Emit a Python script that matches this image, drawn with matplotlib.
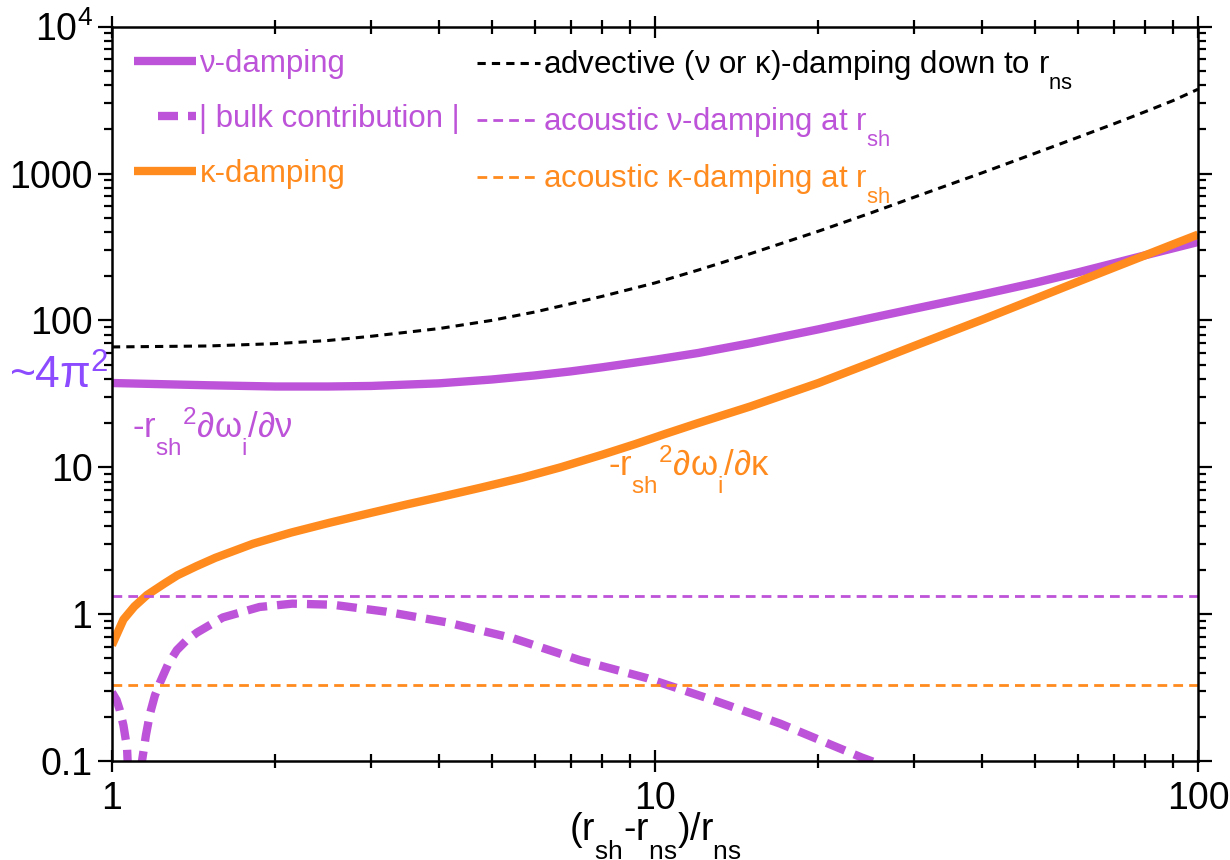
import numpy as np
import matplotlib
matplotlib.use("Agg")
import matplotlib.pyplot as plt
from matplotlib.ticker import LogLocator, NullFormatter
from matplotlib.legend_handler import HandlerLine2D

try:
    # deeper subscripts, like the original figure
    import matplotlib._mathtext as _mt
    _mt.FontConstantsBase.subdrop = 0.95
    _mt.FontConstantsBase.sub1 = 0.95
except Exception:
    pass

plt.rcParams['font.family'] = ['Liberation Sans', 'DejaVu Sans']
plt.rcParams['mathtext.fontset'] = 'custom'
plt.rcParams['mathtext.rm'] = 'Liberation Sans'
plt.rcParams['mathtext.it'] = 'Liberation Sans'
plt.rcParams['mathtext.sf'] = 'Liberation Sans'

PURPLE = '#bd53d8'
ORANGE = '#ff8b1f'
VIOLET = '#8c4bff'

# nu-damping (solid purple)
nu_x = [1, 1.5, 2, 2.5, 3, 4, 5, 6, 7, 8, 10, 12, 15, 20, 25, 30, 40, 50, 60, 70, 80, 90, 100]
nu_y = [37.5, 36.2, 35.5, 35.5, 35.8, 37.3, 39.6, 42.2, 45, 48, 54, 60, 70, 87, 104, 120, 150, 180, 212, 245, 278, 310, 342]

# kappa-damping (solid orange)
kap_x = [1, 1.05, 1.1, 1.16, 1.25, 1.32, 1.43, 1.55, 1.82, 2.14, 2.52, 3.0, 3.5, 4.0, 4.8, 5.7, 6.7,
         8.0, 9.2, 10.5, 12, 15, 20, 25, 30, 40, 50, 60, 70, 80, 90, 100]
kap_y = [0.615, 0.92, 1.13, 1.35, 1.62, 1.84, 2.12, 2.42, 3.02, 3.6, 4.2, 4.9, 5.6, 6.25, 7.3, 8.5, 10.0,
         12.2, 14.4, 17.0, 20.0, 26.0, 37.5, 51.5, 67, 101, 140, 183, 229, 278, 330, 384]

# |bulk contribution| (thick dashed purple)
bulk_x = [1, 1.02, 1.034, 1.05, 1.066, 1.1, 1.136, 1.155, 1.175, 1.2, 1.225, 1.27, 1.317, 1.37, 1.434,
          1.6, 1.87, 2.15, 2.55, 3.2, 4.14, 5.48, 7.28, 9.67, 12.8, 17, 24, 26]
bulk_y = [0.294, 0.26, 0.222, 0.175, 0.124, 0.01, 0.1, 0.15, 0.21, 0.28, 0.34, 0.46, 0.57, 0.66, 0.75,
          0.95, 1.12, 1.18, 1.16, 1.04, 0.88, 0.686, 0.486, 0.367, 0.26, 0.18, 0.106, 0.095]

# advective damping down to r_ns (black dashed)
adv_x = [1, 1.5, 2, 2.5, 3, 4, 5, 6, 7, 8, 10, 12, 15, 20, 25, 30, 40, 50, 60, 70, 80, 90, 100]
adv_y = [66, 67, 69.5, 73, 78, 88, 100, 114, 130, 146, 180, 220, 285, 405, 540, 690, 1010, 1370, 1760,
         2180, 2640, 3140, 3750]

# acoustic damping at r_sh (horizontal levels)
nu_acoustic = 1.33
kap_acoustic = 0.328


class ShortHandle(HandlerLine2D):
    # legend sample drawn over the right part of the handle box only
    def create_artists(self, legend, orig_handle, xdescent, ydescent, width, height, fontsize, trans):
        return super().create_artists(legend, orig_handle, xdescent - 0.38 * width, ydescent,
                                      0.62 * width, height, fontsize, trans)


fig = plt.figure(figsize=(12.3, 8.6), dpi=100)
ax = fig.add_axes([0.091, 0.115, 0.883, 0.854])

h_nu, = ax.plot(nu_x, nu_y, color=PURPLE, lw=6, solid_capstyle='butt', label='ν-damping')
h_bulk, = ax.plot(bulk_x, bulk_y, color=PURPLE, lw=6, dashes=(2.4, 1.2), label='| bulk contribution |')
h_kap, = ax.plot(kap_x, kap_y, color=ORANGE, lw=6, solid_capstyle='butt', label='κ-damping')
h_adv, = ax.plot(adv_x, adv_y, color='black', lw=2.2, dashes=(2.7, 2),
                 label=r'advective (ν or κ)-damping down to r$_{\rm ns}$')
h_nua = ax.axhline(nu_acoustic, color=PURPLE, lw=2, dashes=(3.5, 2.2),
                   label=r'acoustic ν-damping at r$_{\rm sh}$')
h_kapa = ax.axhline(kap_acoustic, color=ORANGE, lw=2, dashes=(3.5, 2.2),
                    label=r'acoustic κ-damping at r$_{\rm sh}$')

ax.set_xscale('log')
ax.set_yscale('log')
ax.set_xlim(1, 100)
ax.set_ylim(0.1, 1e4)

ax.set_xticks([1, 10, 100])
ax.set_xticklabels(['1', '10', '100'])
ax.set_yticks([0.1, 1, 10, 100, 1000, 1e4])
ax.set_yticklabels(['0.1', '1', '10', '100', '1000', r'10$^4$'])
ax.xaxis.set_minor_locator(LogLocator(base=10, subs=np.arange(2, 10)))
ax.yaxis.set_minor_locator(LogLocator(base=10, subs=np.arange(2, 10)))
ax.xaxis.set_minor_formatter(NullFormatter())
ax.yaxis.set_minor_formatter(NullFormatter())

ax.tick_params(axis='x', which='both', direction='inout', top=True, bottom=True,
               labelsize=27, width=1.6, pad=6)
ax.tick_params(axis='x', which='major', length=16)
ax.tick_params(axis='x', which='minor', length=10)
ax.tick_params(axis='y', which='both', direction='out', left=True, right=True,
               labelsize=27, width=1.6, pad=4)
ax.tick_params(axis='y', which='major', length=10)
ax.tick_params(axis='y', which='minor', length=6)
for s in ax.spines.values():
    s.set_linewidth(1.8)

ax.set_xlabel(r'(r$_{\rm sh}$-r$_{\rm ns}$)/r$_{\rm ns}$', fontsize=27, labelpad=-5)

leg1 = ax.legend(handles=[h_nu, h_bulk, h_kap], loc='upper left', fontsize=22.5, frameon=False,
                 handlelength=2.0, handletextpad=0.1, labelspacing=0.8,
                 borderaxespad=0.3, labelcolor='linecolor',
                 handler_map={h_bulk: ShortHandle()})
ax.add_artist(leg1)
leg2 = ax.legend(handles=[h_adv, h_nua, h_kapa], loc='upper left', bbox_to_anchor=(0.316, 1),
                 fontsize=22.5, frameon=False, handlelength=2.0, handletextpad=0.1,
                 labelspacing=0.45, borderaxespad=0.3, labelcolor='linecolor')

ax.text(-0.003, 42, r'~4π$^2$', color=VIOLET, fontsize=32,
        ha='right', va='center', transform=ax.get_yaxis_transform())
ax.text(1.09, 17.5, r'-r$_{\rm sh}$$^2$∂ω$_{\rm i}$/∂ν', color=PURPLE, fontsize=25,
        ha='left', va='center')
ax.text(8.2, 9.6, r'-r$_{\rm sh}$$^2$∂ω$_{\rm i}$/∂κ', color=ORANGE, fontsize=25,
        ha='left', va='center')

fig.savefig('out.png', dpi=100)
